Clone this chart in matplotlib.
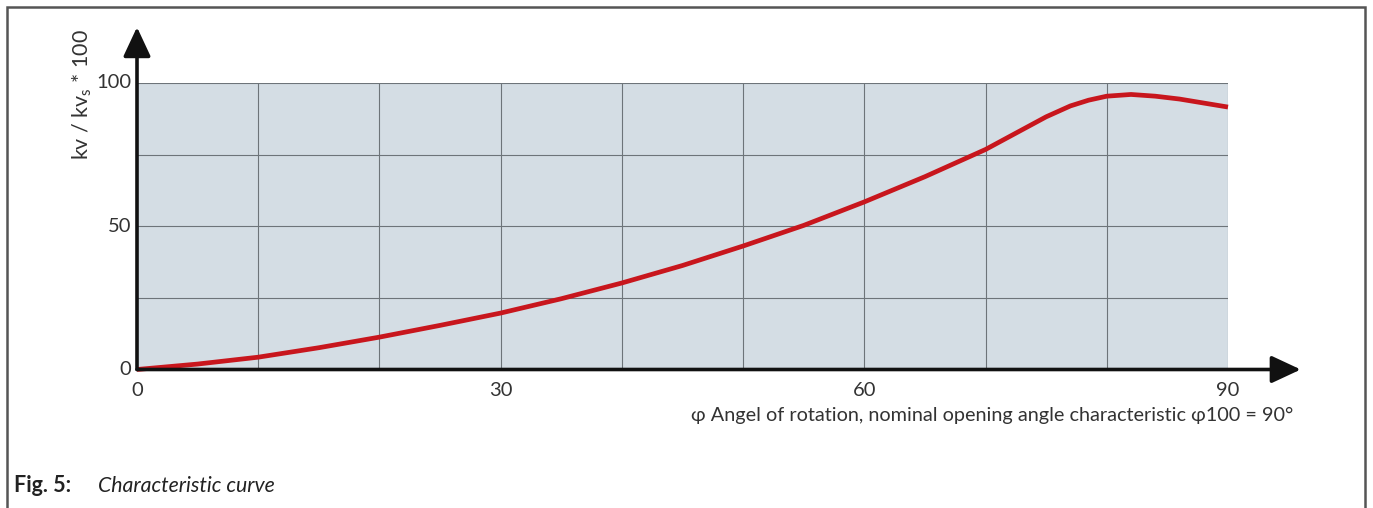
import matplotlib
matplotlib.use("Agg")
import matplotlib.pyplot as plt
from matplotlib.patches import Rectangle

# Data
angle = [0, 5, 10, 15, 20, 25, 30, 35, 40, 45, 50, 55, 60, 65, 70, 72.5, 75, 77, 78.5, 80, 82, 84, 86, 88, 90]
kv = [0, 1.9, 4.3, 7.6, 11.3, 15.4, 19.7, 24.7, 30.2, 36.3, 43.1, 50.3, 58.5, 67.3, 76.8, 82.5, 88.2, 92.0, 94.0, 95.4, 96.0, 95.4, 94.4, 93.0, 91.6]
x_ticks = [0, 30, 60, 90]
y_ticks = [0, 50, 100]
x_label = "φ Angel of rotation, nominal opening angle characteristic φ100 = 90°"
y_label = "kv / kv$_\\mathregular{s}$ * 100"
caption_bold = "Fig. 5:"
caption_text = "Characteristic curve"

plt.rcParams['font.family'] = ['Lato', 'DejaVu Sans']
W, H = 1373, 508
fig = plt.figure(figsize=(W / 100, H / 100), dpi=100)
ax = fig.add_axes([137 / W, 1 - 369.5 / H, (1228 - 137) / W, (369.5 - 83) / H])

ax.set_xlim(0, 90)
ax.set_ylim(0, 100)
ax.set_facecolor('#d4dde4')
for s in ax.spines.values():
    s.set_visible(False)

# grid
for gx in range(10, 91, 10):
    ax.axvline(gx, color='#6d7479', lw=0.8, zorder=1)
for gy in range(25, 101, 25):
    ax.axhline(gy, color='#6d7479', lw=0.8, zorder=1)

ax.plot(angle, kv, color='#c8161d', lw=3.4, solid_capstyle='butt', solid_joinstyle='round',
        zorder=3, clip_on=False)

ax.set_xticks([])
ax.set_yticks([])

tc = '#333333'
for t in x_ticks:
    ax.annotate(str(t), xy=(t, 0), xytext=(0, -9), textcoords='offset points',
                ha='center', va='top', fontsize=14.5, color=tc, annotation_clip=False)
for t in y_ticks:
    ax.annotate(str(t), xy=(0, t), xytext=(-4, 0), textcoords='offset points',
                ha='right', va='center', fontsize=14.5, color=tc, annotation_clip=False)

# axes with arrows
ax.annotate('', xy=(96.0, 0), xytext=(0, 0), annotation_clip=False,
            arrowprops=dict(arrowstyle='-|>,head_length=0.9,head_width=0.42', lw=2.6,
                            color='#111111', mutation_scale=20, shrinkA=0, shrinkB=0), zorder=4)
ax.annotate('', xy=(0, 119.5), xytext=(0, 0), annotation_clip=False,
            arrowprops=dict(arrowstyle='-|>,head_length=0.9,head_width=0.42', lw=2.6,
                            color='#111111', mutation_scale=20, shrinkA=0, shrinkB=0), zorder=4)

fig.text(1293 / W, 1 - 415 / H, x_label, ha='right', va='center', fontsize=14.3, color=tc)
fig.text(82 / W, 1 - 95 / H, y_label, ha='center', va='center', rotation=90, fontsize=15.5, color=tc)

fig.text(14 / W, 1 - 486 / H, caption_bold, ha='left', va='center', fontsize=15.5, fontweight='bold', color='#222222')
fig.text(98 / W, 1 - 486 / H, caption_text, ha='left', va='center', fontsize=15.3, style='italic', color='#222222')

# outer frame
fig.patches.append(Rectangle((7 / W, -0.01), (1365 - 7) / W, 1 - 7 / H + 0.01, transform=fig.transFigure,
                             fill=False, edgecolor='#555555', lw=1.8))

fig.savefig('out.png', dpi=100)
